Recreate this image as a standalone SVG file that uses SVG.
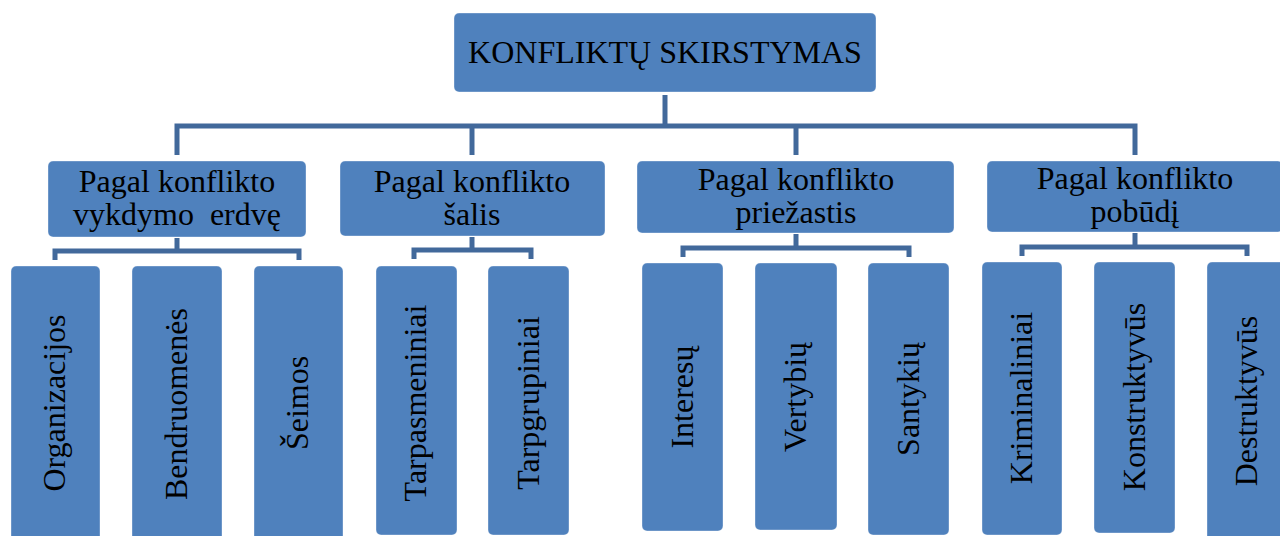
<svg xmlns="http://www.w3.org/2000/svg" width="1280" height="536" viewBox="0 0 1280 536">
<style>
.box{fill:#4F81BD;stroke:#ffffff;stroke-opacity:0.35;stroke-width:1}
.t{font-family:"Liberation Serif","Times New Roman",serif;font-size:32px;fill:#000;text-anchor:middle;white-space:pre}
.c{fill:none;stroke:#42699B;stroke-width:5;stroke-linejoin:miter;stroke-linecap:butt}
</style>
<rect width="1280" height="536" fill="#ffffff"/>
<g id="connectors">
<path class="c" d="M665,95 V126"/>
<path class="c" d="M177,155 V126 H1135 V155"/>
<path class="c" d="M472,126 V155"/>
<path class="c" d="M796,126 V155"/>
<path class="c" d="M55,260 V251 H299 V260"/>
<path class="c" d="M177,238 V251"/>
<path class="c" d="M414,259 V250 H531 V259"/>
<path class="c" d="M472,237 V250"/>
<path class="c" d="M683,257 V248 H909 V257"/>
<path class="c" d="M796,234 V248"/>
<path class="c" d="M1022,256 V247 H1247 V256"/>
<path class="c" d="M1135,233 V247"/>
</g>
<g id="root">
<rect class="box" x="454" y="13" width="422" height="79" rx="5"/>
<text class="t" x="665" y="63">KONFLIKTŲ SKIRSTYMAS</text>
</g>
<g id="n1">
<rect class="box" x="48" y="161" width="258" height="76" rx="5"/>
<text class="t" x="177" y="192">Pagal konflikto</text>
<text class="t" x="177" y="225">vykdymo  erdvę</text>
</g>
<g id="n2">
<rect class="box" x="340" y="161" width="265" height="75" rx="5"/>
<text class="t" x="472" y="192">Pagal konflikto</text>
<text class="t" x="472" y="225">šalis</text>
</g>
<g id="n3">
<rect class="box" x="637" y="161" width="317" height="72" rx="5"/>
<text class="t" x="796" y="189.5">Pagal konflikto</text>
<text class="t" x="796" y="222.5">priežastis</text>
</g>
<g id="n4">
<rect class="box" x="987" y="161" width="296" height="71" rx="5"/>
<text class="t" x="1135" y="188.5">Pagal konflikto</text>
<text class="t" x="1135" y="221.5">pobūdį</text>
</g>
<g id="l1">
<rect class="box" x="11" y="266" width="89" height="276" rx="5"/>
<text class="t" transform="translate(65,403) rotate(-90)">Organizacijos</text>
</g>
<g id="l2">
<rect class="box" x="132" y="266" width="90" height="276" rx="5"/>
<text class="t" transform="translate(187,404) rotate(-90)">Bendruomenės</text>
</g>
<g id="l3">
<rect class="box" x="254" y="266" width="89" height="276" rx="5"/>
<text class="t" transform="translate(308,403) rotate(-90)">Šeimos</text>
</g>
<g id="l4">
<rect class="box" x="376" y="266" width="81" height="269" rx="5"/>
<text class="t" transform="translate(426,403) rotate(-90)">Tarpasmeniniai</text>
</g>
<g id="l5">
<rect class="box" x="488" y="266" width="81" height="269" rx="5"/>
<text class="t" transform="translate(539,403) rotate(-90)">Tarpgrupiniai</text>
</g>
<g id="l6">
<rect class="box" x="642" y="263" width="81" height="268" rx="5"/>
<text class="t" transform="translate(693,397) rotate(-90)">Interesų</text>
</g>
<g id="l7">
<rect class="box" x="755" y="263" width="82" height="267" rx="5"/>
<text class="t" transform="translate(806,397) rotate(-90)">Vertybių</text>
</g>
<g id="l8">
<rect class="box" x="868" y="263" width="81" height="272" rx="5"/>
<text class="t" transform="translate(919,399) rotate(-90)">Santykių</text>
</g>
<g id="l9">
<rect class="box" x="982" y="262" width="80" height="273" rx="5"/>
<text class="t" transform="translate(1032,398) rotate(-90)">Kriminaliniai</text>
</g>
<g id="l10">
<rect class="box" x="1094" y="262" width="81" height="271" rx="5"/>
<text class="t" transform="translate(1145,397) rotate(-90)">Konstruktyvūs</text>
</g>
<g id="l11">
<rect class="box" x="1207" y="262" width="81" height="280" rx="5"/>
<text class="t" transform="translate(1257,401) rotate(-90)">Destruktyvūs</text>
</g>
</svg>
